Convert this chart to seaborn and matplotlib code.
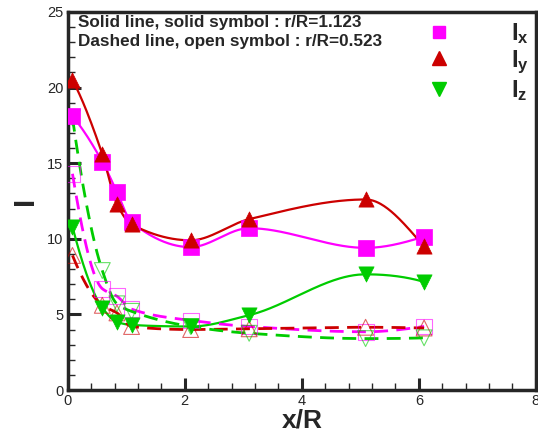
import numpy as np
import pandas as pd
import matplotlib
matplotlib.use("Agg")
import matplotlib.pyplot as plt
from matplotlib.lines import Line2D
from matplotlib.ticker import MultipleLocator
import seaborn as sns

# Axial stations
x_r = [0.08, 0.59, 0.84, 1.09, 2.1, 3.1, 5.09, 6.09]

# r/R = 1.123 (solid)
ix_outer = [18.1, 15.1, 13.1, 11.1, 9.45, 10.7, 9.4, 10.15]
iy_outer = [20.5, 15.6, 12.3, 10.95, 9.9, 11.3, 12.6, 9.5]
iz_outer = [10.8, 5.45, 4.5, 4.3, 4.2, 4.95, 7.65, 7.15]

# r/R = 0.523 (dashed)
ix_inner = [14.3, 6.7, 6.2, 5.35, 4.6, 4.2, 3.85, 4.2]
iy_inner = [8.9, 5.6, 5.1, 4.2, 4.0, 4.05, 4.15, 4.1]
iz_inner = [18.0, 7.9, 5.7, 5.2, 4.2, 3.75, 3.4, 3.45]

legend_labels = [r"$\mathbf{I_x}$", r"$\mathbf{I_y}$", r"$\mathbf{I_z}$"]

MAGENTA = "#FF00FF"
RED = "#CC0000"
GREEN = "#00CC00"


def pchip_curve(x, y, n=300):
    """Shape-preserving piecewise cubic Hermite curve through (x, y)."""
    x = np.asarray(x, float)
    y = np.asarray(y, float)
    h = np.diff(x)
    delta = np.diff(y) / h
    k = len(x)
    d = np.zeros(k)
    for i in range(1, k - 1):
        if delta[i - 1] * delta[i] > 0:
            w1 = 2 * h[i] + h[i - 1]
            w2 = h[i] + 2 * h[i - 1]
            d[i] = (w1 + w2) / (w1 / delta[i - 1] + w2 / delta[i])
    d[0] = ((2 * h[0] + h[1]) * delta[0] - h[0] * delta[1]) / (h[0] + h[1])
    if np.sign(d[0]) != np.sign(delta[0]):
        d[0] = 0
    d[-1] = ((2 * h[-1] + h[-2]) * delta[-1] - h[-1] * delta[-2]) / (h[-1] + h[-2])
    if np.sign(d[-1]) != np.sign(delta[-1]):
        d[-1] = 0
    xs = np.linspace(x[0], x[-1], n)
    idx = np.clip(np.searchsorted(x, xs) - 1, 0, k - 2)
    hh = h[idx]
    t = (xs - x[idx]) / hh
    h00 = 2 * t**3 - 3 * t**2 + 1
    h10 = t**3 - 2 * t**2 + t
    h01 = -2 * t**3 + 3 * t**2
    h11 = t**3 - t**2
    ys = (h00 * y[idx] + h10 * hh * d[idx]
          + h01 * y[idx + 1] + h11 * hh * d[idx + 1])
    return xs, ys


sns.set_style("ticks")
plt.rcParams["font.family"] = ["Liberation Sans", "DejaVu Sans"]
plt.rcParams["mathtext.fontset"] = "custom"
plt.rcParams["mathtext.bf"] = "Liberation Sans:bold"
plt.rcParams["mathtext.rm"] = "Liberation Sans"

fig = plt.figure(figsize=(5.38, 4.36), dpi=100)
ax = fig.add_axes([0.126, 0.1055, 0.870, 0.867])

series = [
    (ix_outer, MAGENTA, "-", "s", True),
    (iy_outer, RED, "-", "^", True),
    (iz_outer, GREEN, "-", "v", True),
    (ix_inner, MAGENTA, "--", "s", False),
    (iy_inner, RED, "--", "^", False),
    (iz_inner, GREEN, "--", "v", False),
]

for vals, color, ls, mk, filled in series:
    xs, ys = pchip_curve(x_r, vals)
    curve = pd.DataFrame({"x": xs, "y": ys})
    sns.lineplot(data=curve, x="x", y="y", sort=False, ax=ax, color=color,
                 linewidth=1.6 if filled else 2.0,
                 linestyle=ls, dashes=False, zorder=2)
    if ls == "--":
        ax.lines[-1].set_dashes([5, 3])
    pts = pd.DataFrame({"x": x_r, "y": vals})
    if filled:
        sns.scatterplot(data=pts, x="x", y="y", ax=ax, marker=mk, s=120,
                        color=color, edgecolor=color, linewidth=0.5, zorder=4)
    else:
        sns.scatterplot(data=pts, x="x", y="y", ax=ax, marker=mk, s=130,
                        facecolor="none", edgecolor=color, linewidth=0.8,
                        alpha=0.6, zorder=3)

ax.set_xlim(0, 8)
ax.set_ylim(0, 25)
ax.xaxis.set_major_locator(MultipleLocator(2))
ax.xaxis.set_minor_locator(MultipleLocator(0.4))
ax.yaxis.set_major_locator(MultipleLocator(5))
ax.yaxis.set_minor_locator(MultipleLocator(1))
ax.tick_params(which="major", direction="in", length=9, width=2.2,
               labelsize=10.5, pad=3, top=False, right=False)
ax.tick_params(which="minor", direction="in", length=5, width=1.0,
               top=False, right=False)
for sp in ax.spines.values():
    sp.set_linewidth(2.5)
    sp.set_visible(True)

ax.set_xlabel("x/R", fontsize=19, fontweight="bold", labelpad=0)
ax.set_ylabel("I", fontsize=21, fontweight="bold", labelpad=6)

ax.text(0.021, 0.971, "Solid line, solid symbol : r/R=1.123",
        transform=ax.transAxes, fontsize=12.3, fontweight="bold",
        ha="left", va="center")
ax.text(0.021, 0.923, "Dashed line, open symbol : r/R=0.523",
        transform=ax.transAxes, fontsize=12.3, fontweight="bold",
        ha="left", va="center")

handles = [
    Line2D([], [], linestyle="none", marker="s", markersize=9,
           color=MAGENTA),
    Line2D([], [], linestyle="none", marker="^", markersize=10,
           color=RED),
    Line2D([], [], linestyle="none", marker="v", markersize=10,
           color=GREEN),
]
ax.legend(handles, legend_labels, loc="upper right", frameon=False,
          fontsize=17, handletextpad=2.05, labelspacing=0.1,
          bbox_to_anchor=(1.021, 1.02), borderaxespad=0.3)

fig.savefig("out.png", dpi=100)
